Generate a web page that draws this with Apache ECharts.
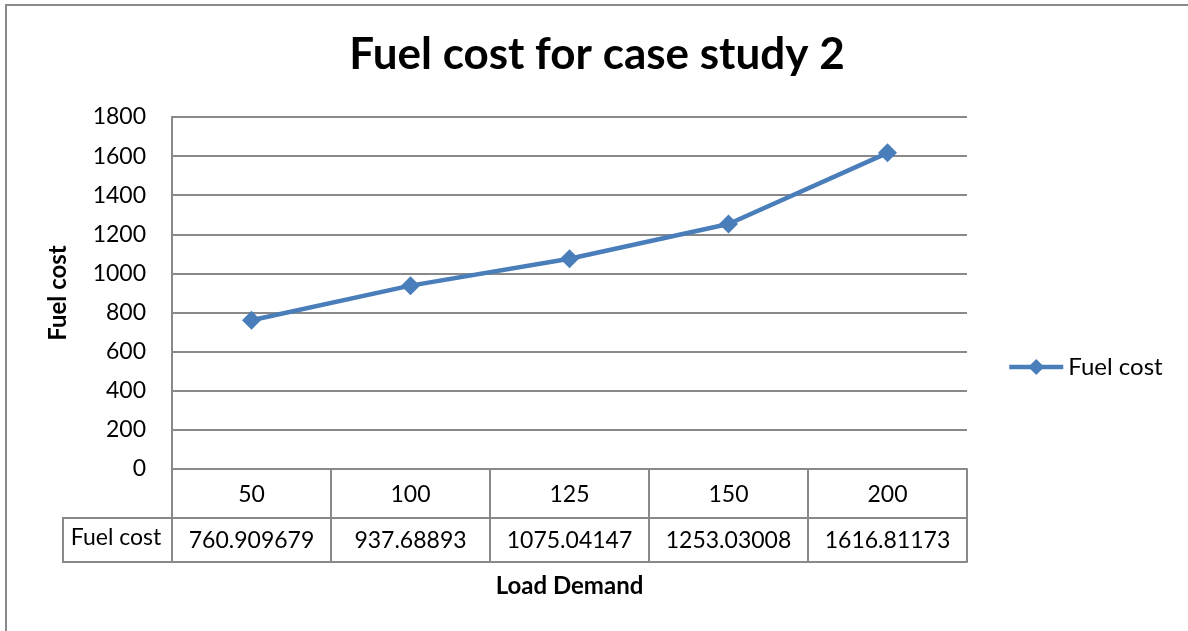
<!DOCTYPE html>
<html>
<head>
<meta charset="utf-8">
<script src="https://cdn.jsdelivr.net/npm/echarts@6/dist/echarts.min.js"></script>
<style>
  html, body {margin: 0; padding: 0; background: #fff;}
  #chart {width: 1188px; height: 631px;}
</style>
</head>
<body>
<div id="chart"></div>
<script>
const loadDemand = ["50", "100", "125", "150", "200"];
const fuelCost = [760.909679, 937.68893, 1075.04147, 1253.03008, 1616.81173];
const fuelCostText = ["760.909679", "937.68893", "1075.04147", "1253.03008", "1616.81173"];
const seriesName = "Fuel cost";

const gray = "#898989";
const blue = "#4a7ebb";
const font = "Lato";

const chart = echarts.init(document.getElementById("chart"));
chart.setOption({
    backgroundColor: "#fff",
    animation: false,
    textStyle: {fontFamily: font},
    title: {
        text: "Fuel cost for case study 2",
        left: 592,
        top: 28,
        textAlign: "center",
        textStyle: {fontFamily: font, fontSize: 44, fontWeight: "bold", color: "#000"}
    },
    legend: {
        data: [seriesName],
        left: 1002,
        top: 350,
        itemWidth: 54,
        itemHeight: 20,
        itemGap: 5,
        lineStyle: {width: 4.5},
        textStyle: {fontFamily: font, fontSize: 24, color: "#000"}
    },
    grid: {left: 172, right: 221, top: 117, bottom: 162, containLabel: false},
    xAxis: [
        {
            type: "category",
            data: loadDemand,
            position: "bottom",
            boundaryGap: true,
            axisLine: {show: true, lineStyle: {color: gray, width: 2}},
            axisTick: {show: true, length: 93, lineStyle: {color: gray, width: 2}},
            axisLabel: {fontSize: 23, color: "#000", margin: 14, fontFamily: font, interval: 0},
            splitLine: {show: false}
        },
        {
            type: "category",
            data: loadDemand,
            position: "bottom",
            offset: 49,
            axisLine: {show: true, lineStyle: {color: gray, width: 2}},
            axisTick: {show: false},
            axisLabel: {
                fontSize: 23, color: "#000", margin: 11, fontFamily: font, interval: 0,
                formatter: (v, i) => fuelCostText[i]
            },
            splitLine: {show: false}
        },
        {
            type: "category",
            data: loadDemand,
            position: "bottom",
            offset: 93,
            axisLine: {show: true, lineStyle: {color: gray, width: 2}},
            axisTick: {show: false},
            axisLabel: {show: false},
            name: "Load Demand",
            nameLocation: "middle",
            nameGap: 12,
            nameTextStyle: {fontFamily: font, fontSize: 24, fontWeight: "bold", color: "#000", verticalAlign: "top"}
        }
    ],
    yAxis: {
        type: "value",
        min: 0,
        max: 1800,
        interval: 200,
        name: "Fuel cost",
        nameLocation: "middle",
        nameRotate: 90,
        nameGap: 102,
        nameTextStyle: {fontFamily: font, fontSize: 24, fontWeight: "bold", color: "#000"},
        axisLine: {show: true, lineStyle: {color: gray, width: 2}},
        axisTick: {show: false},
        axisLabel: {fontSize: 23, color: "#000", margin: 26, fontFamily: font, formatter: v => String(v)},
        splitLine: {show: true, lineStyle: {color: gray, width: 2}}
    },
    series: [
        {
            name: seriesName,
            type: "line",
            data: fuelCost,
            symbol: "diamond",
            symbolSize: 19,
            color: blue,
            lineStyle: {width: 4.5, color: blue},
            itemStyle: {color: blue}
        }
    ],
    graphic: [
        {
            type: "rect",
            shape: {x: 6, y: 5, width: 1400, height: 800},
            style: {fill: "none", stroke: gray, lineWidth: 2},
            silent: true
        },
        {
            type: "rect",
            shape: {x: 63, y: 518, width: 109, height: 44},
            style: {fill: "none", stroke: gray, lineWidth: 2},
            silent: true
        },
        {
            type: "text",
            x: 116,
            y: 538,
            style: {
                text: seriesName, fontFamily: font, fontSize: 23, fill: "#000",
                align: "center", verticalAlign: "middle"
            },
            silent: true
        }
    ]
});
</script>
</body>
</html>
